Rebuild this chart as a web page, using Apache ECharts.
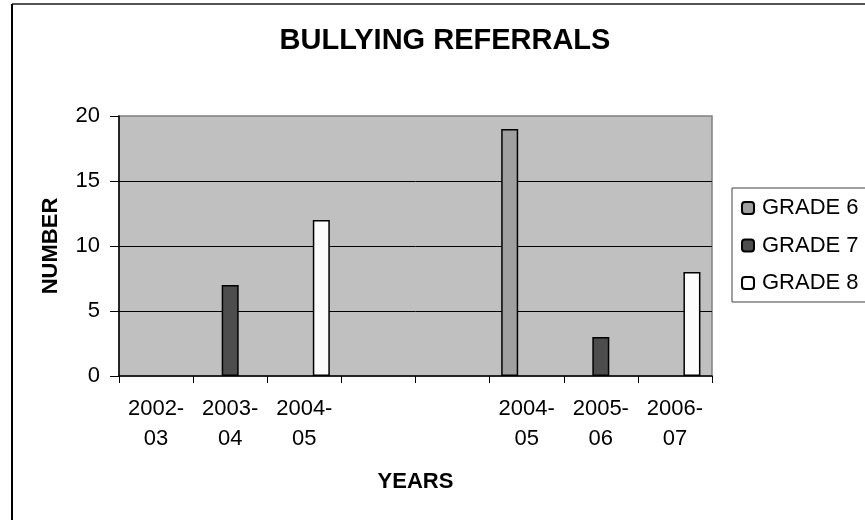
<!DOCTYPE html>
<html>
<head>
<meta charset="utf-8">
<script src="https://cdn.jsdelivr.net/npm/echarts@6/dist/echarts.min.js"></script>
<style>
html,body{margin:0;padding:0;background:#fff;}
#chart{width:865px;height:520px;}
</style>
</head>
<body>
<div id="chart"></div>
<script>
const categories = ["2002-03", "2003-04", "2004-05", "", " ", "2004-05", "2005-06", "2006-07"];
const seriesNames = ["GRADE 6", "GRADE 7", "GRADE 8"];
const grade6 = [null, null, null, null, null, 19, null, null];
const grade7 = [null, 7, null, null, null, null, 3, null];
const grade8 = [null, null, 12, null, null, null, null, 8];
const yTicks = [0, 5, 10, 15, 20];

const FONT = "'Liberation Sans', Arial, sans-serif";
const colors = ["#a0a0a0", "#4d4d4d", "#fcfcfc"];

const chart = echarts.init(document.getElementById('chart'), null, {renderer: 'canvas'});
const mkSeries = (name, data, color) => ({
  name: name,
  type: 'bar',
  data: data,
  barWidth: 17,
  barGap: '0%',
  itemStyle: {color: color, borderColor: '#000', borderWidth: 1.5},
  emphasis: {disabled: true}
});

chart.setOption({
  animation: false,
  backgroundColor: '#ffffff',
  textStyle: {fontFamily: FONT},
  title: {
    text: 'BULLYING REFERRALS',
    left: 445,
    textAlign: 'center',
    top: 26,
    padding: 0,
    textStyle: {fontFamily: FONT, fontSize: 29, fontWeight: 'bold', color: '#000'}
  },
  graphic: [
    {type: 'line', shape: {x1: 12, y1: 4, x2: 900, y2: 4}, style: {stroke: '#555', lineWidth: 2}, silent: true},
    {type: 'line', shape: {x1: 12, y1: 4, x2: 12, y2: 600}, style: {stroke: '#000', lineWidth: 2}, silent: true}
  ],
  legend: {
    orient: 'vertical',
    left: 732,
    top: 188,
    padding: [8, 9, 7, 9],
    itemWidth: 12,
    itemHeight: 12,
    itemGap: 13.5,
    borderColor: '#404040',
    borderWidth: 1,
    backgroundColor: '#fff',
    data: seriesNames,
    textStyle: {fontFamily: FONT, fontSize: 22, color: '#000', lineHeight: 24, padding: [0, 0, 0, 3]}
  },
  grid: {
    left: 119, right: 153, top: 116, bottom: 144,
    show: true,
    backgroundColor: '#c0c0c0',
    borderColor: '#808080',
    borderWidth: 1.5
  },
  xAxis: {
    type: 'category',
    data: categories,
    name: 'YEARS',
    nameLocation: 'middle',
    nameGap: 95,
    nameTextStyle: {fontFamily: FONT, fontSize: 22, fontWeight: 'bold', color: '#000'},
    axisLine: {show: true, lineStyle: {color: '#000', width: 1.5}},
    axisTick: {show: true, interval: 0, length: 7, lineStyle: {color: '#000', width: 1}},
    axisLabel: {
      interval: 0,
      margin: 18,
      fontFamily: FONT,
      fontSize: 22,
      lineHeight: 30,
      color: '#000',
      formatter: v => v.trim() === '' ? '' : v.replace('-', '-\n')
    },
    splitLine: {show: false}
  },
  yAxis: {
    type: 'value',
    min: yTicks[0],
    max: yTicks[yTicks.length - 1],
    interval: yTicks[1] - yTicks[0],
    name: 'NUMBER',
    nameLocation: 'middle',
    nameGap: 57,
    nameRotate: 90,
    nameTextStyle: {fontFamily: FONT, fontSize: 22, fontWeight: 'bold', color: '#000'},
    axisLine: {show: true, lineStyle: {color: '#000', width: 1.5}},
    axisTick: {show: true, length: 9, lineStyle: {color: '#000', width: 1}},
    axisLabel: {margin: 19, fontFamily: FONT, fontSize: 22, color: '#000'},
    splitLine: {show: true, showMinLine: false, showMaxLine: false, lineStyle: {color: '#000', width: 1}}
  },
  series: [
    mkSeries(seriesNames[0], grade6, colors[0]),
    mkSeries(seriesNames[1], grade7, colors[1]),
    mkSeries(seriesNames[2], grade8, colors[2])
  ]
});
</script>
</body>
</html>
